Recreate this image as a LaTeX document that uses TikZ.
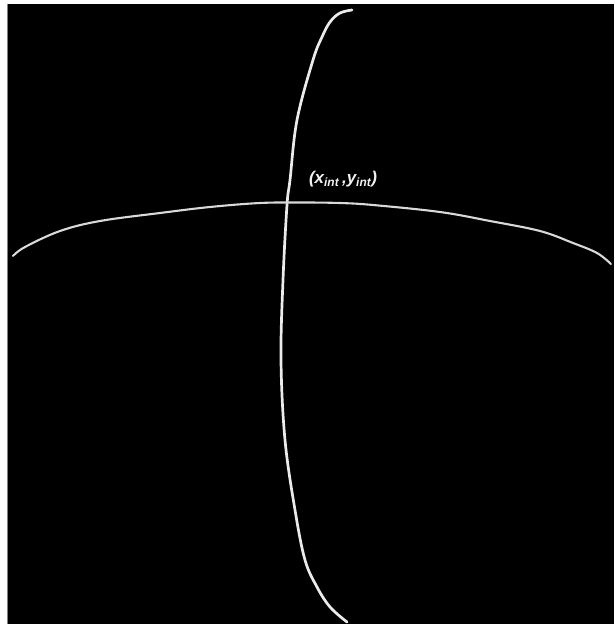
\documentclass[tikz,border=0pt]{standalone}
\usepackage{fontspec}
\setmainfont{Liberation Sans}
\begin{document}
\begin{tikzpicture}[x=1pt,y=-1pt,
  curve/.style={draw=white!92!black,line width=2.7pt,line cap=round},
  hcurve/.style={draw=white!85!black,line width=2.1pt,line cap=round},
  lbl/.style={text=white!95!black,font=\fontsize{17}{19}\selectfont\bfseries\itshape,inner sep=0pt}]
\fill[white] (0,0) rectangle (614,624);
\useasboundingbox (0,0) rectangle (614,624);
\fill[black] (8,4) rectangle (614,624);
\draw[gray,line width=0.8pt] (7.5,4) -- (7.5,624);
% vertical curve
\draw[curve] plot[smooth,tension=0.6] coordinates {(352,10) (340,13) (330,22) (322,37) (313,60) (297,120) (290,180) (287,205) (283,280) (281,360) (285,440) (295,510) (305,560) (317,587) (330,607) (347,622)};
% horizontal curve
\draw[hcurve] plot[smooth,tension=0.6] coordinates {(13,256) (25,247) (60,231) (100,221) (160,213) (210,207) (260,203) (300,202.5) (340,203) (373,205) (440,212) (490,221) (540,231) (573,243) (597,253) (611,264)};
\node[lbl] (label) at (343,179) {(x\textsubscript{int}\,,y\textsubscript{int})};
\end{tikzpicture}
\end{document}
